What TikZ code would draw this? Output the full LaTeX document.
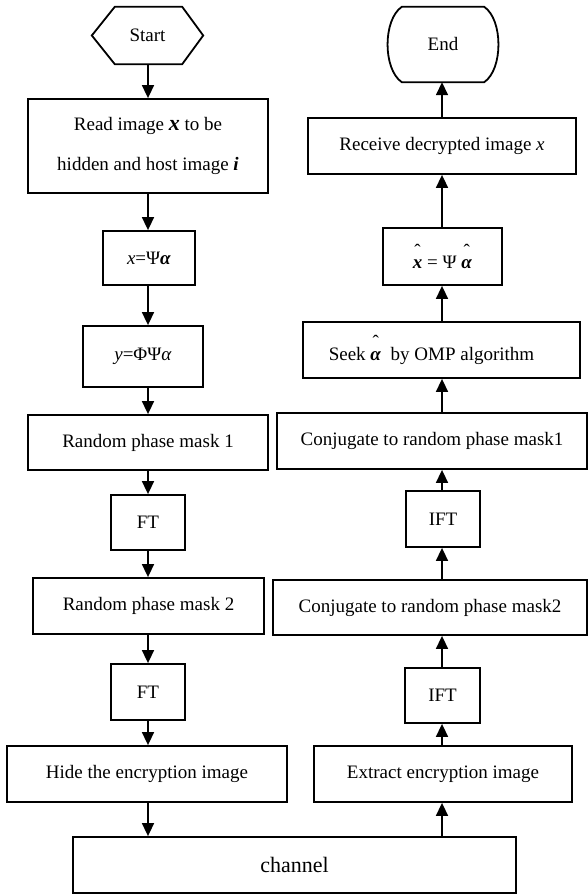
\documentclass[tikz,border=0pt]{standalone}
\usepackage{fontspec}
\setmainfont{Liberation Serif}
\usetikzlibrary{arrows.meta}

% small circumflex set well above its base
\newcommand\hatted[1]{\leavevmode\vbox{\offinterlineskip\halign{\hfil##\hfil\cr\char"02C6\cr\noalign{\kern3pt}#1\cr}}}
\newcommand\bix[1]{\textbf{\textit{#1}}}

\begin{document}
\begin{tikzpicture}[x=1pt,y=-1pt,
  boxline/.style={line width=1.8pt, line join=miter},
  stepbox/.style={boxline, draw, rectangle, inner sep=0pt, align=center,
    font=\fontsize{19}{40}\selectfont},
  ghost/.style={rectangle, inner sep=0pt, font=\fontsize{19}{23}\selectfont},
  arr/.style={line width=1.6pt, -{Triangle[length=13pt,width=12pt]}}
]
\useasboundingbox (0,0) rectangle (588,896);

% column axes for the connectors
\coordinate (colL) at (148,0);
\coordinate (colR) at (442,0);

% ---- encryption side ----
\node[ghost, minimum width=111pt, minimum height=57pt] (start) at (147.5,35.5) {Start};
\draw[boxline] (start.west) -- ([xshift=23pt]start.north west) -- ([xshift=-21pt]start.north east)
  -- (start.east) -- ([xshift=-21pt]start.south east) -- ([xshift=23pt]start.south west) -- cycle;

\node[stepbox, minimum width=240pt, minimum height=94pt] (read) at (148,146)
  {Read image \bix{\fontsize{22}{22}\selectfont x} to be\\hidden and host image \bix{i}};
\node[stepbox, minimum width=92pt, minimum height=54pt] (xpsi) at (149,258)
  {\textit{x}=Ψ\bix{α}};
\node[stepbox, minimum width=120pt, minimum height=61pt] (yphi) at (143,356.5)
  {\textit{y}=ΦΨ\textit{α}};
\node[stepbox, minimum width=240pt, minimum height=55pt] (rpm1) at (148,442.5)
  {Random phase mask 1};
\node[stepbox, minimum width=74pt, minimum height=55pt] (ft1) at (148,522.5) {FT};
\node[stepbox, minimum width=231pt, minimum height=56pt] (rpm2) at (148.5,606)
  {Random phase mask 2};
\node[stepbox, minimum width=74pt, minimum height=56pt] (ft2) at (148,692) {FT};
\node[stepbox, minimum width=280pt, minimum height=56pt] (hide) at (147,774)
  {Hide the encryption image};

% ---- transmission ----
\node[stepbox, minimum width=443pt, minimum height=56pt,
  font=\fontsize{22}{26}\selectfont] (chan) at (294.5,865) {channel};

% ---- decryption side ----
\node[stepbox, minimum width=258pt, minimum height=56pt] (extr) at (443,774)
  {Extract encryption image};
\node[stepbox, minimum width=75pt, minimum height=55pt] (ift2) at (442.5,695.5) {IFT};
\node[stepbox, minimum width=314pt, minimum height=55pt] (conj2) at (430,607.5)
  {Conjugate to random phase mask2};
\node[stepbox, minimum width=74pt, minimum height=56pt] (ift1) at (443,519) {IFT};
\node[stepbox, minimum width=310pt, minimum height=56pt] (conj1) at (432,441)
  {Conjugate to random phase mask1};
\node[stepbox, minimum width=277pt, minimum height=56pt] (seek) at (441.5,350)
  {\hspace*{-20pt}Seek \hatted{\bix{α}}\ \ by OMP algorithm};
\node[stepbox, minimum width=119pt, minimum height=57pt] (xhat) at (442.5,256.5)
  {\hatted{\bix{x}} = Ψ \hatted{\bix{α}}};
\node[stepbox, minimum width=268pt, minimum height=56pt] (recv) at (442,146)
  {Receive decrypted image \textit{x}};
\node[ghost, minimum width=112pt, minimum height=75pt] (endn) at (443,44.5) {End};
\draw[boxline] ([xshift=15pt]endn.north west) -- ([xshift=-15pt]endn.north east)
  .. controls ([xshift=4pt,yshift=-13pt]endn.north east) and ([xshift=4pt,yshift=13pt]endn.south east)
  .. ([xshift=-15pt]endn.south east) -- ([xshift=15pt]endn.south west)
  .. controls ([xshift=-4pt,yshift=13pt]endn.south west) and ([xshift=-4pt,yshift=-13pt]endn.north west)
  .. cycle;

% ---- connectors, left column downwards ----
\draw[arr] (start.south -| colL) -- (read.north -| colL);
\draw[arr] (read.south -| colL) -- (xpsi.north -| colL);
\draw[arr] (xpsi.south -| colL) -- (yphi.north -| colL);
\draw[arr] (yphi.south -| colL) -- (rpm1.north -| colL);
\draw[arr] (rpm1.south -| colL) -- (ft1.north -| colL);
\draw[arr] (ft1.south -| colL) -- (rpm2.north -| colL);
\draw[arr] (rpm2.south -| colL) -- (ft2.north -| colL);
\draw[arr] (ft2.south -| colL) -- (hide.north -| colL);
\draw[arr] (hide.south -| colL) -- (chan.north -| colL);

% ---- connectors, right column upwards ----
\draw[arr] (chan.north -| colR) -- (extr.south -| colR);
\draw[arr] (extr.north -| colR) -- (ift2.south -| colR);
\draw[arr] (ift2.north -| colR) -- (conj2.south -| colR);
\draw[arr] (conj2.north -| colR) -- (ift1.south -| colR);
\draw[arr] (ift1.north -| colR) -- (conj1.south -| colR);
\draw[arr] (conj1.north -| colR) -- (seek.south -| colR);
\draw[arr] (seek.north -| colR) -- (xhat.south -| colR);
\draw[arr] (xhat.north -| colR) -- (recv.south -| colR);
\draw[arr] (recv.north -| colR) -- (endn.south -| colR);
\end{tikzpicture}
\end{document}
